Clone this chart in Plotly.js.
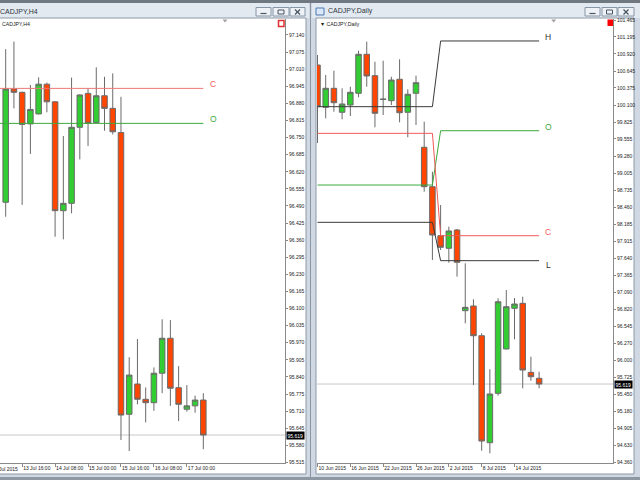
<!DOCTYPE html>
<html><head><meta charset="utf-8">
<script src="https://cdn.plot.ly/plotly-3.0.1.min.js"></script>
<style>html,body{margin:0;padding:0;background:#cfd8e3;}#chart{width:640px;height:480px;}</style>
</head><body><div id="chart"></div>
<script>
// ---------- H4 (left) data ----------
const h4Times = ['13 Jul 00:00','13 Jul 04:00','13 Jul 08:00','13 Jul 12:00','13 Jul 16:00','13 Jul 20:00',
  '14 Jul 00:00','14 Jul 04:00','14 Jul 08:00','14 Jul 12:00','14 Jul 16:00','14 Jul 20:00',
  '15 Jul 00:00','15 Jul 04:00','15 Jul 08:00','15 Jul 12:00','15 Jul 16:00','15 Jul 20:00',
  '16 Jul 00:00','16 Jul 04:00','16 Jul 08:00','16 Jul 12:00','16 Jul 16:00','16 Jul 20:00',
  '17 Jul 00:00','17 Jul 04:00','17 Jul 08:00'];
const h4Open  = [null,null,96.504,96.935,96.922,96.802,96.840,96.953,96.886,96.472,96.500,96.789,96.918,96.807,96.909,96.861,96.769,95.698,95.813,95.755,95.742,95.854,95.987,95.799,95.717,95.730,95.752];
const h4High  = [null,null,97.086,97.115,96.925,96.950,96.979,96.959,96.888,96.756,96.978,96.914,96.937,97.017,96.981,96.994,96.905,95.915,95.984,95.800,95.876,96.059,96.056,95.881,95.809,95.769,95.778];
const h4Low   = [null,null,96.449,96.861,96.494,96.688,96.838,96.846,96.373,96.363,96.462,96.667,96.718,96.805,96.776,96.762,95.600,95.558,95.736,95.667,95.711,95.778,95.730,95.672,95.708,95.704,95.565];
const h4Close = [null,null,96.935,96.922,96.800,96.857,96.953,96.886,96.472,96.500,96.789,96.912,96.804,96.909,96.861,96.772,95.695,95.847,95.755,95.742,95.854,95.987,95.797,95.736,95.730,95.752,95.619];
const h4TickLabels = ['13 Jul 16:00','14 Jul 08:00','15 Jul 00:00','15 Jul 16:00','16 Jul 08:00','17 Jul 00:00'];
const h4YearLabel = ['13 Jul 00:00','13 Jul 2015'];
const prevWeekOpen = 96.804, prevWeekClose = 96.937;
const h4PriceTicks = [95.515,95.580,95.645,95.710,95.775,95.840,95.905,95.970,96.035,96.100,96.165,96.230,96.295,96.360,96.425,96.490,96.555,96.620,96.685,96.750,96.815,96.880,96.945,97.010,97.075,97.140];

// ---------- Daily (right) data ----------
const dDates = ['10 Jun','11 Jun','12 Jun','15 Jun','16 Jun','17 Jun','18 Jun','19 Jun','22 Jun','23 Jun','24 Jun','25 Jun','26 Jun','29 Jun','30 Jun',
  '1 Jul','2 Jul','3 Jul','6 Jul','7 Jul','8 Jul','9 Jul','10 Jul','13 Jul','14 Jul','15 Jul','16 Jul','17 Jul'];
const dOpen  = [100.742,100.063,100.368,99.983,100.100,100.288,100.914,100.571,100.196,100.169,100.513,99.983,100.288,99.421,98.788,98.001,97.799,98.093,96.797,96.872,96.395,94.677,95.470,96.182,96.835,96.915,95.807,95.711];
const dHigh  = [100.903,100.582,100.651,100.368,100.394,100.972,101.117,100.795,100.811,100.554,100.834,100.352,100.571,99.832,99.029,98.494,98.146,98.109,97.558,96.980,96.434,95.856,96.996,97.129,97.001,97.021,96.058,95.817];
const dLow   = [99.490,99.886,99.992,99.870,99.923,100.224,100.394,99.742,99.939,100.100,99.822,99.581,99.779,98.708,97.611,97.771,97.567,97.343,96.594,95.603,94.548,94.507,95.432,96.175,96.337,95.550,95.672,95.550];
const dClose = [100.073,100.368,100.137,100.116,100.304,100.914,100.566,99.967,100.190,100.501,99.976,100.272,100.458,98.788,98.012,97.815,98.077,97.574,96.851,96.395,94.704,95.459,96.941,96.861,96.904,95.844,95.737,95.619];
const dTickLabels = ['10 Jun 2015','16 Jun 2015','22 Jun 2015','26 Jun 2015','2 Jul 2015','8 Jul 2015','14 Jul 2015'];
const dPriceTicks = [94.360,94.630,94.905,95.180,95.450,95.725,96.000,96.270,96.545,96.820,97.090,97.365,97.640,97.915,98.185,98.460,98.735,99.005,99.280,99.555,99.825,100.100,100.375,100.645,100.920,101.195,101.465];
// previous month levels
const mayLevels  = {H:100.073, O:98.815, C:99.645, L:98.216};
const juneLevels = {H:101.128, O:99.687, C:98.001, L:97.600};

// ---------- helpers ----------
const W=640, H=480;
const P = x => x/W, Q = y => 1 - y/H;
const FONT = 'Liberation Sans, Arial, sans-serif';
const UP = '#32cd32', DOWN = '#ff4500', WICK = '#6a6a6a';

const h4Idx = h4Times.map((t,i)=>i).filter(i=>h4Open[i]!==null);
const dIdx = dDates.map((t,i)=>i);

const traces = [];
traces.push({type:'candlestick', xaxis:'x', yaxis:'y',
  x:h4Idx, open:h4Idx.map(i=>h4Open[i]), high:h4Idx.map(i=>h4High[i]), low:h4Idx.map(i=>h4Low[i]), close:h4Idx.map(i=>h4Close[i]),
  increasing:{line:{color:WICK,width:1}, fillcolor:UP}, decreasing:{line:{color:WICK,width:1}, fillcolor:DOWN},
  whiskerwidth:0, hoverinfo:'skip', showlegend:false});
const h4All = h4Times.map((t,i)=>i).slice(1);
traces.push({type:'scatter', mode:'lines', xaxis:'x', yaxis:'y', x:h4All, y:h4All.map(()=>prevWeekClose),
  line:{color:'#f07878', width:1}, hoverinfo:'skip', showlegend:false});
traces.push({type:'scatter', mode:'lines', xaxis:'x', yaxis:'y', x:h4All, y:h4All.map(()=>prevWeekOpen),
  line:{color:'#3caa3c', width:1}, hoverinfo:'skip', showlegend:false});

traces.push({type:'candlestick', xaxis:'x2', yaxis:'y2',
  x:dIdx, open:dOpen, high:dHigh, low:dLow, close:dClose,
  increasing:{line:{color:WICK,width:1}, fillcolor:UP}, decreasing:{line:{color:WICK,width:1}, fillcolor:DOWN},
  whiskerwidth:0, hoverinfo:'skip', showlegend:false});
const lvl = k => dDates.map(d => (d.indexOf('Jun')>=0 ? mayLevels : juneLevels)[k]);
const lvlColors = {H:'#3a3a3a', O:'#3caa3c', C:'#f05a5a', L:'#3a3a3a'};
['H','O','C','L'].forEach(k=>{
  traces.push({type:'scatter', mode:'lines', xaxis:'x2', yaxis:'y2', x:dIdx, y:lvl(k),
    line:{color:lvlColors[k], width:1}, hoverinfo:'skip', showlegend:false});
});

// ---------- axes ----------
const tickFont = {family:FONT, size:5.0, color:'#222'};
const yDom = [Q(463), Q(19)];
const xRange1 = [1.308, 35.92];
const xRange2 = [-0.06, 36.0];
function xAxis(dom, range, vals, text, yref){
  return {domain:dom, range:range, anchor:yref, showgrid:false, zeroline:false, showline:true, linecolor:'#8a8a8a', linewidth:1,
    ticks:'outside', ticklen:3, tickcolor:'#8a8a8a', tickvals:vals, ticktext:text, tickfont:tickFont, tickangle:0,
    ticklabelposition:'outside right', rangeslider:{visible:false}, fixedrange:true};
}
function yAxis(range, vals, xref){
  return {domain:yDom, range:range, anchor:xref, side:'right', showgrid:false, zeroline:false, showline:true, linecolor:'#8a8a8a', linewidth:1,
    ticks:'outside', ticklen:2, tickcolor:'#8a8a8a', tickvals:vals, ticktext:vals.map(v=>v.toFixed(3)), tickfont:tickFont, fixedrange:true};
}

// ---------- window chrome ----------
const shapes = [];
const rect = (x0,y0,x1,y1,fill,line,lw,layer) => shapes.push({type:'rect', xref:'paper', yref:'paper', x0:P(x0), x1:P(x1), y0:Q(y0), y1:Q(y1),
  fillcolor:fill, line:{color:line||'rgba(0,0,0,0)', width:lw||0}, layer:layer||'below'});
const seg = (x0,y0,x1,y1,color,w,layer) => shapes.push({type:'line', xref:'paper', yref:'paper', x0:P(x0), x1:P(x1), y0:Q(y0), y1:Q(y1),
  line:{color:color, width:w||1}, layer:layer||'above'});
rect(-2,-1,642,3,'#6f7780');
rect(-2,3,309,18,'#e2e9f1');
rect(312,3,642,18,'#e2e9f1');
rect(-2,18,306,474,'#ffffff','#8d99a6',1);
rect(316,18,634,474,'#ffffff','#8d99a6',1);
rect(-2,477,642,481,'#8e98a3');
seg(310.5,3,310.5,477,'#8a96a3',1,'below');
// title bar buttons
[[256,271],[273,289],[290,305],[585,600],[602,617],[618,634]].forEach((b,j)=>{
  rect(b[0],7.5,b[1],16,'#eef2f7','#8796a6',1,'above');
  const cx=(b[0]+b[1])/2;
  if(j%3===0) seg(cx-3,13.5,cx+3,13.5,'#4a5562',1.2);
  if(j%3===1) rect(cx-3,10,cx+3,14,'rgba(0,0,0,0)','#4a5562',1,'above');
  if(j%3===2){ seg(cx-2.5,9.5,cx+2.5,14.5,'#4a5562',1.2); seg(cx-2.5,14.5,cx+2.5,9.5,'#4a5562',1.2); }
});
rect(316,8,324,15,'#dbe8f7','#4a78b0',1,'above');
// top-right markers
rect(278.5,20.5,284,26.5,'#ffffff','#e03030',1.5,'above');
rect(607.5,19.5,613,26,'#ff0000',null,0,'above');
// shift triangles
[225,553.7].forEach(cx=>shapes.push({type:'path', layer:'above', fillcolor:'#a0a0a0', line:{width:0}, xref:'paper', yref:'paper',
  path:`M ${P(cx-2.5)},${Q(19.5)} L ${P(cx+2.5)},${Q(19.5)} L ${P(cx)},${Q(22.5)} Z`}));
// current price lines
shapes.push({type:'line', xref:'x domain', yref:'y', x0:0, x1:1, y0:h4Close[h4Close.length-1], y1:h4Close[h4Close.length-1], line:{color:'#c8c8c8', width:1}, layer:'below'});
shapes.push({type:'line', xref:'x2 domain', yref:'y2', x0:0, x1:1, y0:dClose[dClose.length-1], y1:dClose[dClose.length-1], line:{color:'#c8c8c8', width:1}, layer:'below'});

// ---------- annotations ----------
const ann = [];
const txt = (x,y,text,opt) => ann.push(Object.assign({xref:'paper', yref:'paper', x:P(x), y:Q(y), text:text, showarrow:false,
  xanchor:'left', yanchor:'middle', font:{family:FONT, size:7, color:'#2a2a2a'}}, opt||{}));
txt(-2,11,'CADJPY,H4',{font:{family:FONT,size:7,color:'#303840'}});
txt(326,11,'CADJPY,Daily',{font:{family:FONT,size:7,color:'#303840'}});
txt(0,24,'CADJPY,H4',{font:{family:FONT,size:5.2,color:'#222'}});
txt(318,24,'▼ CADJPY,Daily',{font:{family:FONT,size:5.2,color:'#222'}});
// leftmost partially visible date label
const yearIdx = h4Times.indexOf(h4YearLabel[0]);
const yearPx = (yearIdx - xRange1[0])/(xRange1[1]-xRange1[0])*285;
txt(yearPx+1,468.5,h4YearLabel[1],{font:tickFont});
// current price boxes
ann.push({xref:'paper', yref:'y', x:P(285.5), y:h4Close[h4Close.length-1], xanchor:'left', yanchor:'middle', showarrow:false,
  text:h4Close[h4Close.length-1].toFixed(3), bgcolor:'#000', borderpad:0.5, font:{family:FONT,size:5.0,color:'#fff'}});
ann.push({xref:'paper', yref:'y2', x:P(614), y:dClose[dClose.length-1], xanchor:'left', yanchor:'middle', showarrow:false,
  text:dClose[dClose.length-1].toFixed(3), bgcolor:'#000', borderpad:0.5, font:{family:FONT,size:5.0,color:'#fff'}});
// level labels
const lblFont = c => ({family:FONT, size:8.5, color:c});
const lastH4 = h4Times.length-1, lastD = dDates.length-1;
ann.push({xref:'x', yref:'y', x:lastH4+1.2, y:prevWeekClose, yshift:4, text:'C', showarrow:false, font:lblFont('#f05a5a')});
ann.push({xref:'x', yref:'y', x:lastH4+1.2, y:prevWeekOpen, yshift:4, text:'O', showarrow:false, font:lblFont('#3caa3c')});
ann.push({xref:'x2', yref:'y2', x:lastD+1.1, y:juneLevels.H, yshift:4, text:'H', showarrow:false, font:lblFont('#303030')});
ann.push({xref:'x2', yref:'y2', x:lastD+1.1, y:juneLevels.O, yshift:4, text:'O', showarrow:false, font:lblFont('#3caa3c')});
ann.push({xref:'x2', yref:'y2', x:lastD+1.1, y:juneLevels.C, yshift:4, text:'C', showarrow:false, font:lblFont('#f05a5a')});
ann.push({xref:'x2', yref:'y2', x:lastD+1.1, y:juneLevels.L, yshift:-4, text:'L', showarrow:false, font:lblFont('#303030')});

const layout = {
  width:W, height:H, margin:{l:0,r:0,t:0,b:0,pad:0},
  paper_bgcolor:'#cfd8e3', plot_bgcolor:'rgba(0,0,0,0)',
  showlegend:false, boxgap:0.2, boxgroupgap:0.16,
  xaxis: xAxis([0, P(285)], xRange1, h4TickLabels.map(t=>h4Times.indexOf(t)), h4TickLabels, 'y'),
  yaxis: yAxis([95.5127, 97.2008], h4PriceTicks, 'x'),
  xaxis2: xAxis([P(317), P(613)], xRange2, dTickLabels.map(t=>dDates.indexOf(t.replace(' 2015',''))), dTickLabels, 'y2'),
  yaxis2: yAxis([94.351, 101.481], dPriceTicks, 'x2'),
  shapes: shapes, annotations: ann
};
Plotly.newPlot('chart', traces, layout, {staticPlot:true, displayModeBar:false});
</script>
</body></html>
